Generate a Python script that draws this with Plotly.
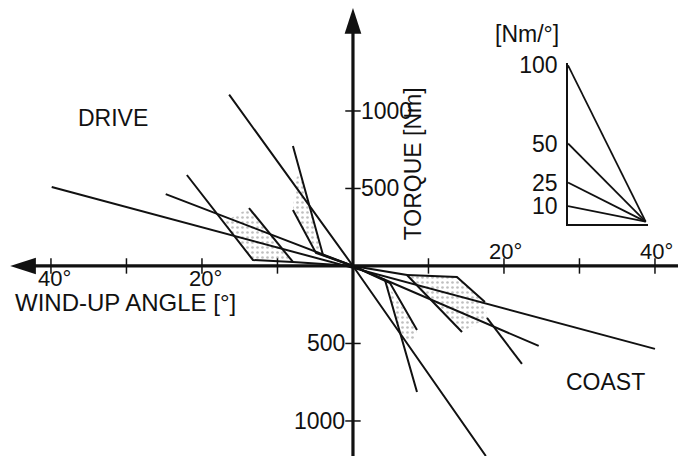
import plotly.graph_objects as go

# ---------------- data (wind-up angle in degrees, torque in Nm) ----------------
# long characteristic lines through the origin
line_a_x = [-39.9, 40.0]
line_a_y = [510, -535]
line_b_x = [-16.4, 0, 17.6]
line_b_y = [1105, 0, -1226]
line_c_x = [-24.8, 0, 24.6]
line_c_y = [464, 0, -516]

# drive side, outer stage
drive1_left_x = [-22.0, -13.25, -7.95, 0]
drive1_left_y = [587, 38.7, 25.8, 0]
drive1_right_x = [-13.77, -7.95]
drive1_right_y = [374, 25.8]
drive1_shade_x = [-17.1, -13.25, -7.95, -13.77]
drive1_shade_y = [284, 38.7, 25.8, 374]

# drive side, inner stage
drive2_a_x = [-7.95, -3.97, 0]
drive2_a_y = [774, 71, 0]
drive2_b_x = [-7.95, -4.9, 0]
drive2_b_y = [361, 84, 0]
drive2_shade_x = [-7.0, -7.6, -7.95, -4.9, -3.97]
drive2_shade_y = [606, 560, 361, 84, 71]

# coast side, outer stage
coast1_a_x = [0, 7.15, 14.44]
coast1_a_y = [0, -58, -426]
coast1_edge_x = [7.15, 13.77, 17.48]
coast1_edge_y = [-58, -71, -232]
coast1_b_x = [17.75, 22.38]
coast1_b_y = [-335, -632]
coast1_shade_x = [7.15, 13.77, 17.48, 17.75, 14.44]
coast1_shade_y = [-58, -71, -232, -335, -426]

# coast side, inner stage
coast2_a_x = [0, 4.24, 8.48]
coast2_a_y = [0, -90, -813]
coast2_b_x = [0, 4.9, 8.48]
coast2_b_y = [0, -110, -413]
coast2_shade_x = [4.37, 8.48, 8.08, 6.49]
coast2_shade_y = [-103, -413, -477, -477]

# axes ticks and labels
x_ticks = [-40, -30, -20, -10, 10, 20, 30, 40]
y_ticks = [-1000, -500, 500, 1000]
x_lab_left = [-40, -20]
x_lab_left_txt = ["40°", "20°"]
x_lab_right = [20, 40]
x_lab_right_txt = ["20°", "40°"]
y_lab_up = [500, 1000]
y_lab_up_txt = ["500", "1000"]
y_lab_dn = [-500, -1000]
y_lab_dn_txt = ["500", "1000"]

# inset: stiffness rates [Nm/°]
rates = [100, 50, 25, 10]
rate_txt = ["100", "50", "25", "10"]

# ---------------- figure ----------------
X_RANGE = [-46.75, 43.05]
Y_RANGE = [-1226, 1716]
INK = "#111111"
FONT = "Liberation Sans, Arial, sans-serif"

fig = go.Figure()


def shade(x, y):
    fig.add_trace(go.Scatter(
        x=x, y=y, mode="none", fill="toself", fillcolor="white",
        fillpattern=dict(shape=".", fgcolor="#808080", bgcolor="white",
                         size=5, solidity=0.22),
        hoverinfo="skip", showlegend=False))


def seg(x, y, w=2.0):
    fig.add_trace(go.Scatter(
        x=x, y=y, mode="lines", line=dict(color=INK, width=w),
        hoverinfo="skip", showlegend=False))


for sx, sy in [(drive1_shade_x, drive1_shade_y), (drive2_shade_x, drive2_shade_y),
               (coast1_shade_x, coast1_shade_y), (coast2_shade_x, coast2_shade_y)]:
    shade(sx, sy)

for lx, ly in [(line_a_x, line_a_y), (line_b_x, line_b_y), (line_c_x, line_c_y),
               (drive1_left_x, drive1_left_y), (drive1_right_x, drive1_right_y),
               (drive2_a_x, drive2_a_y), (drive2_b_x, drive2_b_y),
               (coast1_a_x, coast1_a_y), (coast1_edge_x, coast1_edge_y),
               (coast1_b_x, coast1_b_y), (coast2_a_x, coast2_a_y),
               (coast2_b_x, coast2_b_y)]:
    seg(lx, ly)

# coordinate axes
x_tip = -45.4
y_tip = 1664
seg([x_tip + 1.5, X_RANGE[1]], [0, 0], 3.2)
seg([0, 0], [Y_RANGE[0], y_tip - 100], 3.2)
fig.add_trace(go.Scatter(x=[x_tip], y=[0], mode="markers",
                         marker=dict(symbol="arrow", angle=-90, size=27, color=INK),
                         hoverinfo="skip", showlegend=False, cliponaxis=False))
fig.add_trace(go.Scatter(x=[0], y=[y_tip], mode="markers",
                         marker=dict(symbol="arrow", angle=0, size=27, color=INK),
                         hoverinfo="skip", showlegend=False, cliponaxis=False))

# tick marks
fig.add_trace(go.Scatter(x=x_ticks, y=[0] * len(x_ticks), mode="markers",
                         marker=dict(symbol="line-ns", size=11, line=dict(color=INK, width=1.5)),
                         hoverinfo="skip", showlegend=False))
fig.add_trace(go.Scatter(x=[0] * len(y_ticks), y=y_ticks, mode="markers",
                         marker=dict(symbol="line-ew", size=11, line=dict(color=INK, width=1.5)),
                         hoverinfo="skip", showlegend=False))

ann = []
tf = dict(family=FONT, size=23, color=INK)
tfs = dict(family=FONT, size=22, color=INK)
for v, t in zip(x_lab_left, x_lab_left_txt):
    ann.append(dict(x=v, y=0, xref="x", yref="y", text=t, showarrow=False,
                    xanchor="center", yanchor="top", xshift=4, yshift=2, font=tfs))
for v, t in zip(x_lab_right, x_lab_right_txt):
    ann.append(dict(x=v, y=0, xref="x", yref="y", text=t, showarrow=False,
                    xanchor="center", yanchor="bottom", xshift=2, yshift=0, font=tfs))
for v, t in zip(y_lab_up, y_lab_up_txt):
    ann.append(dict(x=0, y=v, xref="x", yref="y", text=t, showarrow=False,
                    xanchor="left", yanchor="middle", xshift=6, font=tf))
for v, t in zip(y_lab_dn, y_lab_dn_txt):
    ann.append(dict(x=0, y=v, xref="x", yref="y", text=t, showarrow=False,
                    xanchor="right", yanchor="middle", xshift=-6, font=tf))

ann += [
    dict(x=-31.8, y=955, xref="x", yref="y", text="DRIVE", showarrow=False, font=tf),
    dict(x=33.5, y=-748, xref="x", yref="y", text="COAST", showarrow=False, font=tf),
    dict(x=7.9, y=660, xref="x", yref="y", text="TORQUE [Nm]", textangle=-90,
         showarrow=False, font=tf),
    dict(x=-45.0, y=-238, xref="x", yref="y", text="WIND-UP ANGLE [°]", xanchor="left",
         yanchor="middle", showarrow=False, font=dict(family=FONT, size=24, color=INK)),
    dict(x=527 / 678, y=1 - 34 / 456, xref="paper", yref="paper", text="[Nm/°]",
         xanchor="center", yanchor="middle", showarrow=False, font=tf),
]

# inset: stiffness lines fanning from a common point
for r in rates:
    fig.add_trace(go.Scatter(x=[0, 1], y=[r, 0], mode="lines", xaxis="x2", yaxis="y2",
                             line=dict(color=INK, width=1.8),
                             hoverinfo="skip", showlegend=False))

fig.update_layout(
    width=678, height=456,
    margin=dict(l=0, r=0, t=0, b=0, pad=0, autoexpand=False),
    paper_bgcolor="white", plot_bgcolor="rgba(0,0,0,0)",
    showlegend=False,
    annotations=ann,
    xaxis=dict(range=X_RANGE, visible=False, domain=[0, 1], fixedrange=True,
               automargin=False),
    yaxis=dict(range=Y_RANGE, visible=False, domain=[0, 1], fixedrange=True,
               automargin=False),
    xaxis2=dict(range=[0, 1.03], domain=[568 / 678, 648 / 678], anchor="y2",
                showline=True, linecolor=INK, linewidth=1.5, showgrid=False,
                zeroline=False, showticklabels=False, ticks="", fixedrange=True,
                automargin=False),
    yaxis2=dict(range=[-1.5, 101.5], domain=[1 - 224 / 456, 1 - 63 / 456], anchor="x2",
                showline=True, linecolor=INK, linewidth=1.5, showgrid=False,
                zeroline=False, tickvals=rates, ticktext=rate_txt, ticks="",
                ticklabelstandoff=4, tickfont=tf, fixedrange=True, automargin=False),
)

fig.write_html("out.html", config={"displayModeBar": False},
               post_script="document.body.style.margin='0';document.body.style.padding='0';")
